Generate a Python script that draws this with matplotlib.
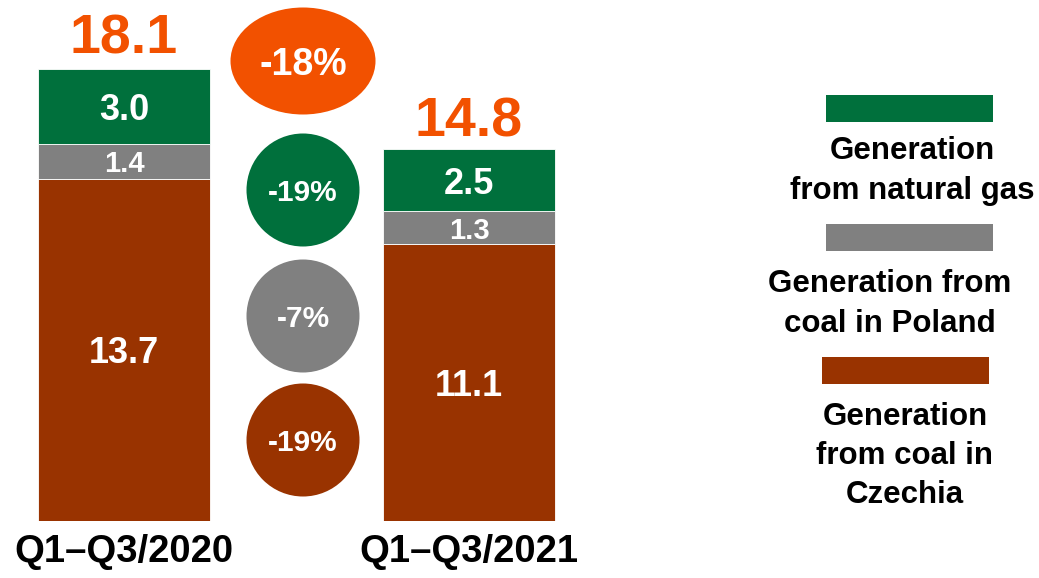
import matplotlib.pyplot as plt
from matplotlib.patches import Ellipse, Rectangle

plt.rcParams["font.family"] = ["Liberation Sans", "DejaVu Sans"]
plt.rcParams["font.weight"] = "bold"

periodos = ["Q1\u2013Q3/2020", "Q1\u2013Q3/2021"]
carbon_czechia = [13.7, 11.1]
carbon_polonia = [1.4, 1.3]
gas_natural = [3.0, 2.5]
totales = [18.1, 14.8]

cambios = ["-18%", "-19%", "-7%", "-19%"]
leyenda = [
    "Generation\nfrom natural gas",
    "Generation from\ncoal in Poland",
    "Generation\nfrom coal in\nCzechia",
]

VERDE = "#00703C"
GRIS = "#808080"
MARRON = "#993300"
NARANJA = "#F25100"

W, H = 1039, 578
fig = plt.figure(figsize=(W / 100, H / 100), dpi=100)

# eje de las barras
ax = fig.add_axes([0, 57 / H, 1, 521 / H])
ax.set_xlim(-124 / 345, (W - 124) / 345)
ax.set_ylim(0, 521 / 24.97)
ax.axis("off")

x = [0, 1]
ancho = 172 / 345

b1 = ax.bar(x, carbon_czechia, ancho, color=MARRON, edgecolor="white", linewidth=0.6)
b2 = ax.bar(x, carbon_polonia, ancho, bottom=carbon_czechia, color=GRIS,
            edgecolor="white", linewidth=0.6)
base_gas = [c + p for c, p in zip(carbon_czechia, carbon_polonia)]
b3 = ax.bar(x, gas_natural, ancho, bottom=base_gas, color=VERDE,
            edgecolor="white", linewidth=0.6)

for barras, tam in [(b1, 26), (b2, 21), (b3, 26)]:
    for barra in barras:
        ax.text(
            barra.get_x() + barra.get_width() / 2,
            barra.get_y() + barra.get_height() / 2,
            f"{barra.get_height():.1f}",
            ha="center", va="center_baseline",
            color="white", fontsize=tam, fontweight="bold"
        )

for xi, total in zip(x, totales):
    ax.annotate(
        f"{total:.1f}",
        (xi, total),
        xytext=(0, 11),
        textcoords="offset points",
        ha="center", va="baseline",
        color=NARANJA, fontsize=40, fontweight="bold"
    )

for xi, etiqueta in zip(x, periodos):
    ax.annotate(
        etiqueta,
        (xi, 0),
        xytext=(0, -31 * 0.72),
        textcoords="offset points",
        ha="center", va="center",
        color="black", fontsize=27.5, fontweight="bold"
    )

# capa superior en pixeles para burbujas y leyenda
ov = fig.add_axes([0, 0, 1, 1])
ov.set_xlim(0, W)
ov.set_ylim(H, 0)
ov.axis("off")

burbujas = [
    (303, 61, 145, 107, NARANJA, 27),
    (303, 190, 113, 113, VERDE, 21.5),
    (303, 316, 113, 113, GRIS, 21.5),
    (303, 440, 113, 113, MARRON, 21.5),
]
for (cx, cy, bw, bh, col, tam), txt in zip(burbujas, cambios):
    ov.add_patch(Ellipse((cx, cy), bw, bh, color=col, lw=0))
    ov.text(cx, cy, txt, ha="center", va="center_baseline",
            color="white", fontsize=tam, fontweight="bold")

cajas = [(826, 95, VERDE), (826, 224, GRIS), (822, 357, MARRON)]
textos_pos = [(912, 171), (890, 304), (905, 456)]
for (rx, ry, col), (tx, ty), txt in zip(cajas, textos_pos, leyenda):
    ov.add_patch(Rectangle((rx, ry), 167, 27, color=col, lw=0))
    ov.text(tx, ty, txt, ha="center", va="center", multialignment="center",
            color="black", fontsize=22.5, fontweight="bold", linespacing=1.4)

fig.savefig("out.png", dpi=100)
